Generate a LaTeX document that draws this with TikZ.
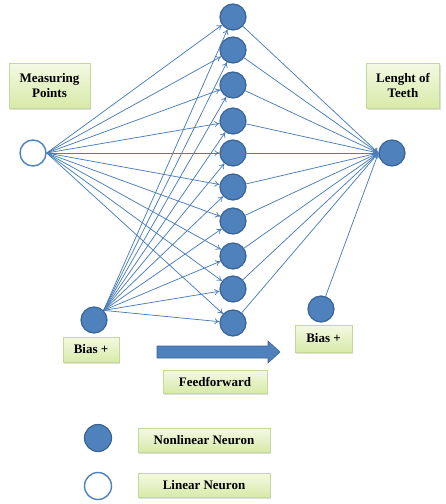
\documentclass[tikz,border=0pt]{standalone}
\usepackage{fontspec}
\setmainfont{Liberation Serif}
\usetikzlibrary{arrows.meta, shadows, positioning}
\definecolor{nblue}{HTML}{4F81BD}
\definecolor{nedge}{HTML}{3A6396}
\definecolor{lblue}{HTML}{4A7DBA}
\definecolor{ltop}{HTML}{F3F9E4}
\definecolor{lbot}{HTML}{D8EAA8}
\definecolor{gedge}{HTML}{C4D89B}

\tikzset{
  neuron/.style = {circle, draw=nedge, fill=nblue, line width=1.2pt,
                   minimum size=26pt, inner sep=0pt},
  linear/.style = {circle, draw=nblue, line width=1.4pt, fill=white,
                   minimum size=26pt, inner sep=0pt},
  lbl/.style    = {draw=gedge, top color=ltop, bottom color=lbot,
                   font=\bfseries\fontsize{13}{15}\selectfont, align=center,
                   inner sep=0pt,
                   drop shadow={opacity=0.25, shadow xshift=1.2pt, shadow yshift=-1.5pt}},
  con/.style    = {draw=lblue, line width=0.75pt, -{To[length=5pt, width=6pt]}}
}

\begin{document}
\begin{tikzpicture}[x=1pt, y=-1pt]
\useasboundingbox (0,0) rectangle (446,504);

% neurons
\node[linear] (in) at (33,153) {};
\node[neuron] (bl) at (94,320) {};
\foreach \y [count=\i] in {17,50,85,121,153,187,221,256,289,323}
  \node[neuron] (h\i) at (233,\y) {};
\node[neuron] (out) at (392,153) {};
\node[neuron] (br) at (321,309) {};

% connections
\foreach \i in {1,...,10} {
  \draw[con] (in.east) -- (h\i);
  \draw[con] (bl.north east) -- (h\i);
  \draw[con] (h\i) -- (out.west);
}
\draw[con] (br.70) -- (out.west);

% labels
\node[lbl, minimum width=81pt, minimum height=45pt] (mp) at (49.5,85.5) {Measuring\\Points};
\node[lbl, minimum width=73pt, minimum height=45pt] (lt) at (403,85.5) {Lenght of\\Teeth};
\node[lbl, minimum width=56pt, minimum height=25pt] (bbl) at (91,349.5) {Bias +};
\node[lbl, minimum width=57pt, minimum height=27pt] (bbr) at (323.5,338.5) {Bias +};
\node[lbl, minimum width=104pt, minimum height=23pt] (ff) at (215,381.5) {Feedforward};

% feedforward arrow
\filldraw[fill=nblue, draw=nedge, line width=0.6pt]
  (157,346) -- (268,346) -- (268,341) -- (280,352) -- (268,363) -- (268,358) -- (157,358) -- cycle;

% legend
\node[neuron, minimum size=27pt] (kn) at (98,438) {};
\node[lbl, minimum width=132pt, minimum height=24pt] (kt) at (204,440) {Nonlinear Neuron};
\node[linear, minimum size=27pt] (kl) at (98,486) {};
\node[lbl, minimum width=132pt, minimum height=24pt] (lt2) at (204,485) {Linear Neuron};
\end{tikzpicture}
\end{document}
